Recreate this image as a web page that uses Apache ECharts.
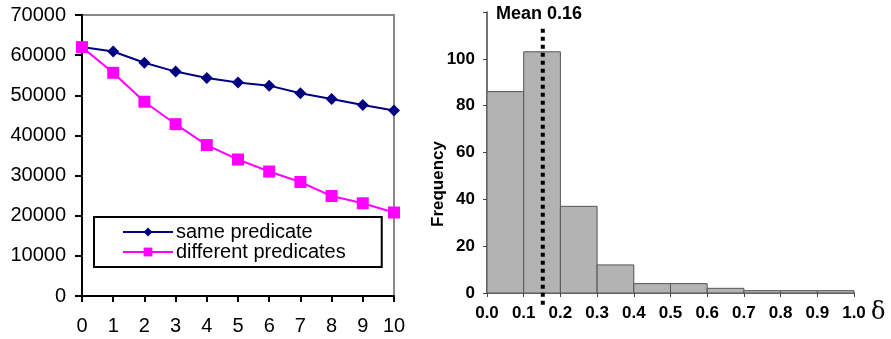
<!DOCTYPE html>
<html><head><meta charset="utf-8">
<script src="https://cdn.jsdelivr.net/npm/echarts@6/dist/echarts.min.js"></script>
<style>html,body{margin:0;padding:0;background:#fff}#c{width:891px;height:339px}</style>
</head><body><div id="c"></div>
<script>
var steps = [0,1,2,3,4,5,6,7,8,9,10];
var samePredicate = [62000,60900,58100,55900,54300,53200,52400,50500,49100,47600,46200];
var diffPredicates = [62000,55600,48400,42800,37600,34000,31000,28400,24900,23100,20800];
var binStarts = [0.0,0.1,0.2,0.3,0.4,0.5,0.6,0.7,0.8,0.9];
var binWidth = 0.1;
var frequency = [86,103,37,12,4,4,2,1,1,1];
var meanPos = 0.152;
var meanLabel = 'Mean 0.16';
var yTitle = 'Frequency';
var leftYTicks = [0,10000,20000,30000,40000,50000,60000,70000];
var rightYTicks = [0,20,40,60,80,100];

var chart = echarts.init(document.getElementById('c'));
var F = 'Liberation Sans, Arial, sans-serif';
chart.setOption({
  animation:false,
  grid:[
    {left:82, top:15, width:312, height:281, show:true, borderColor:'#888', borderWidth:2, backgroundColor:'transparent'},
    {left:487, top:12, width:367, height:281}
  ],
  xAxis:[
    {gridIndex:0, type:'value', min:0, max:10, interval:1,
     axisLine:{onZero:false, lineStyle:{color:'#000', width:2}},
     axisTick:{show:true, length:6, lineStyle:{color:'#000', width:2}},
     axisLabel:{color:'#000', fontFamily:F, fontSize:20, margin:20},
     splitLine:{show:false}},
    {gridIndex:1, type:'value', min:0, max:1, interval:0.1,
     axisLine:{onZero:false, lineStyle:{color:'#444', width:1.5}},
     axisTick:{show:true, length:4, lineStyle:{color:'#444'}},
     axisLabel:{color:'#000', fontFamily:F, fontSize:17, fontWeight:'bold', margin:12,
       formatter:function(v){return v.toFixed(1);}},
     splitLine:{show:false}}
  ],
  yAxis:[
    {gridIndex:0, type:'value', min:0, max:70000, interval:10000,
     axisLine:{show:true, lineStyle:{color:'#000', width:2}},
     axisTick:{show:true, length:7, lineStyle:{color:'#000', width:2}},
     axisLabel:{color:'#000', fontFamily:F, fontSize:20, margin:16,
       formatter:function(v){return leftYTicks.indexOf(v)>=0? String(v):'';}},
     splitLine:{show:false}},
    {gridIndex:1, type:'value', min:0, max:120, interval:20,
     axisLine:{show:true, lineStyle:{color:'#444', width:1.5}},
     axisTick:{show:true, length:4, lineStyle:{color:'#444'}},
     axisLabel:{color:'#000', fontFamily:F, fontSize:17, fontWeight:'bold', margin:12,
       formatter:function(v){return rightYTicks.indexOf(v)>=0? String(v):'';}},
     splitLine:{show:false}}
  ],
  legend:{
    left:94, top:217, orient:'vertical',
    padding:[5,36,5,28], itemGap:0, itemWidth:50, itemHeight:11,
    borderColor:'#000', borderWidth:2, backgroundColor:'#fff',
    textStyle:{color:'#000', fontFamily:F, fontSize:20, padding:[0,0,0,-2]},
    data:['same predicate','different predicates']
  },
  series:[
    {name:'same predicate', type:'line', xAxisIndex:0, yAxisIndex:0,
     data:steps.map(function(s,i){return [s, samePredicate[i]];}),
     symbol:'diamond', symbolSize:12, lineStyle:{color:'#000080', width:2},
     itemStyle:{color:'#000080'}, z:2},
    {name:'different predicates', type:'line', xAxisIndex:0, yAxisIndex:0,
     data:steps.map(function(s,i){return [s, diffPredicates[i]];}),
     symbol:'rect', symbolSize:12, lineStyle:{color:'#ff00ff', width:2},
     itemStyle:{color:'#ff00ff'}, z:3},
    {type:'custom', xAxisIndex:1, yAxisIndex:1,
     data:binStarts.map(function(b,i){return [b, b+binWidth, frequency[i]];}),
     renderItem:function(params, api){
       var p0 = api.coord([api.value(0), api.value(2)]);
       var p1 = api.coord([api.value(1), 0]);
       return {type:'rect', shape:{x:p0[0], y:p0[1], width:p1[0]-p0[0], height:p1[1]-p0[1]},
         style:{fill:'#b3b3b3', stroke:'#555', lineWidth:1}};
     }, z:2},
    {type:'line', xAxisIndex:1, yAxisIndex:1, clip:false, symbol:'none',
     data:[[meanPos,-5],[meanPos,114]],
     lineStyle:{color:'#000', width:4, type:[4,4]}, z:5, silent:true}
  ],
  graphic:[
    {type:'text', left:496, top:5, style:{text:meanLabel, fill:'#000', font:'bold 18px Liberation Sans, Arial, sans-serif'}},
    {type:'text', x:438, y:184, rotation:Math.PI/2,
     style:{text:yTitle, fill:'#000', font:'bold 17px Liberation Sans, Arial, sans-serif', align:'center', verticalAlign:'middle'}},
    {type:'text', left:871, top:301, style:{text:'δ', fill:'#000', font:'24px DejaVu Serif, Liberation Serif, serif'}}
  ]
});
</script></body></html>
